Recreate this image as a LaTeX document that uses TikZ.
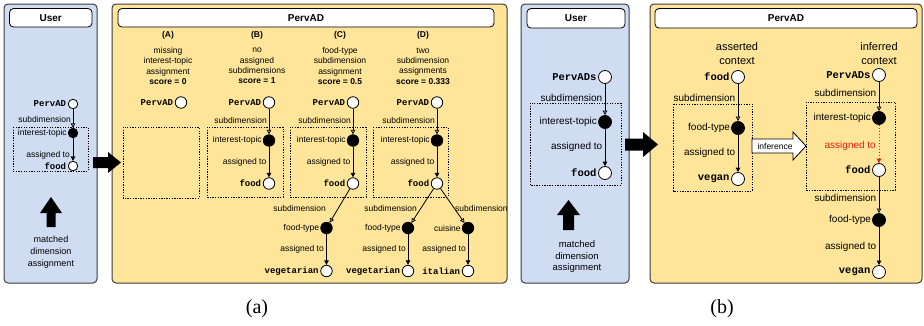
\documentclass[tikz,border=0pt]{standalone}
\usepackage{fontspec}
\setmainfont{Liberation Serif}
\setsansfont{Liberation Sans}
\setmonofont{Liberation Mono}
\usetikzlibrary{arrows.meta}
\definecolor{ublue}{RGB}{207,220,242}
\definecolor{pyell}{RGB}{255,229,153}
\definecolor{pbord}{RGB}{60,60,60}
\definecolor{redinf}{RGB}{230,30,20}
\begin{document}
\begin{tikzpicture}[x=1pt,y=-1pt,
  panelU/.style={draw=pbord,line width=1pt,rounded corners=4pt,fill=ublue},
  panelP/.style={draw=pbord,line width=1pt,rounded corners=4pt,fill=pyell},
  titlebox/.style={draw=black,line width=0.8pt,rounded corners=4pt,fill=white},
  titletxt/.style={font=\sffamily\bfseries\fontsize{10pt}{12pt}\selectfont,inner sep=0pt},
  dbox/.style={draw=black,line width=0.8pt,dash pattern=on 1.3pt off 1.3pt},
  wn/.style={circle,draw=black,fill=white,line width=0.8pt,inner sep=0pt,minimum size=#1},
  bn/.style={circle,draw=black,fill=black,line width=0.8pt,inner sep=0pt,minimum size=#1},
  lA/.style={font=\sffamily\fontsize{8.5pt}{10.5pt}\selectfont,inner sep=1pt},
  lB/.style={font=\sffamily\fontsize{10pt}{12pt}\selectfont,inner sep=1pt},
  mA/.style={font=\ttfamily\bfseries\fontsize{9pt}{10pt}\selectfont,inner sep=1.5pt},
  mB/.style={font=\ttfamily\bfseries\fontsize{10.5pt}{12pt}\selectfont,inner sep=1.5pt},
  sub/.style={line width=0.8pt,-{Triangle[open,length=4.5pt,width=4.5pt]}},
  asg/.style={line width=0.8pt,-{Triangle[length=4.5pt,width=4.5pt]}},
  blockarr/.style={fill=black,draw=none},
  hdr/.style={font=\sffamily\fontsize{8.5pt}{10.3pt}\selectfont,align=center,inner sep=0pt}
]
\useasboundingbox (0,0) rectangle (924,325);

%================ (a) User panel
\draw[panelU] (4,4) rectangle (97,283);
\draw[titlebox] (9.5,8.5) rectangle (92,27);
\node[titletxt] (tUa) at (50.75,17.75) {User};
\draw[dbox] (13,127) rectangle (88,171);
\node[wn=9.5pt,label={[mA]left:PervAD}] (uap) at (73,104) {};
\node[bn=9.5pt,label={[lA]left:interest-topic}] (uai) at (73,133) {};
\node[wn=9.5pt,label={[mA]left:food}] (uaf) at (73,166) {};
\draw[sub] (uap) -- (uai);
\draw[asg] (uai) -- (uaf);
\node[lA,anchor=east] (uals) at (72,119) {subdimension};
\node[lA,anchor=east] (uala) at (71,155) {assigned to};
\fill[blockarr] (46.5,227) -- (46.5,213) -- (40,213) -- (51,197) -- (62,213) -- (55.5,213) -- (55.5,227) -- cycle;
\node[font=\sffamily\fontsize{9pt}{12pt}\selectfont,align=center] (uam) at (51,252) {matched\\dimension\\assignment};

%================ (a) PervAD panel
\draw[panelP] (112,4) rectangle (507,283);
\draw[titlebox] (118,8.5) rectangle (494,27);
\node[titletxt] (tPa) at (306,17.75) {PervAD};

% headers
\node[hdr,font=\sffamily\bfseries\fontsize{8.5pt}{10.3pt}\selectfont] (hA) at (168,35) {(A)};
\node[hdr] (tA) at (168,66) {missing\\interest-topic\\assignment\\\textbf{score = 0}};
\node[hdr,font=\sffamily\bfseries\fontsize{8.5pt}{10.3pt}\selectfont] (hB) at (257,35) {(B)};
\node[hdr] (tB) at (257,66) {no\\assigned\\subdimensions\\\textbf{score = 1}};
\node[hdr,font=\sffamily\bfseries\fontsize{8.5pt}{10.3pt}\selectfont] (hC) at (340,35) {(C)};
\node[hdr] (tC) at (340,66) {food-type\\subdimension\\assignment\\\textbf{score = 0.5}};
\node[hdr,font=\sffamily\bfseries\fontsize{8.5pt}{10.3pt}\selectfont] (hD) at (423,35) {(D)};
\node[hdr] (tD) at (423,66) {two\\subdimension\\assignments\\\textbf{score = 0.333}};

% dashed boxes
\draw[dbox] (123,127) rectangle (199,198);
\draw[dbox] (207,127) rectangle (283,197);
\draw[dbox] (290,127) rectangle (366,197);
\draw[dbox] (373,127) rectangle (448,197);

% column A
\node[wn=11.5pt,label={[mA]left:PervAD}] (ap) at (181,102.5) {};

% column B
\node[wn=11.5pt,label={[mA]left:PervAD}] (bp) at (269,102.5) {};
\node[bn=11.5pt,label={[lA]left:interest-topic}] (bi) at (269,140.5) {};
\node[wn=11.5pt,label={[mA]left:food}] (bf) at (269,183.5) {};
\draw[sub] (bp) -- (bi);
\draw[asg] (bi) -- (bf);
\node[lA,anchor=east] (bls) at (268,120.5) {subdimension};
\node[lA,anchor=east] (bla) at (267.5,162) {assigned to};

% column C
\node[wn=11.5pt,label={[mA]left:PervAD}] (cp) at (353,102.5) {};
\node[bn=11.5pt,label={[lA]left:interest-topic}] (ci) at (353,140.5) {};
\node[wn=11.5pt,label={[mA]left:food}] (cf) at (353,183.5) {};
\node[bn=11.5pt,label={[lA]left:food-type}] (ct) at (326.5,228) {};
\node[wn=11.5pt,label={[mA]left:vegetarian}] (cv) at (326.5,271) {};
\draw[sub] (cp) -- (ci);
\draw[asg] (ci) -- (cf);
\draw[sub] (cf) -- (ct);
\draw[asg] (ct) -- (cv);
\node[lA,anchor=east] (cls) at (352,120.5) {subdimension};
\node[lA,anchor=east] (cla) at (351.5,162) {assigned to};
\node[lA,anchor=east] (cls2) at (327,208) {subdimension};
\node[lA,anchor=east] (cla2) at (325,249) {assigned to};

% column D
\node[wn=11.5pt,label={[mA]left:PervAD}] (dp) at (437,102.5) {};
\node[bn=11.5pt,label={[lA]left:interest-topic}] (di) at (437,140.5) {};
\node[wn=11.5pt,label={[mA]left:food}] (df) at (437,183.5) {};
\node[bn=11.5pt,label={[lA]left:food-type}] (dt) at (408,228) {};
\node[wn=11.5pt,label={[mA]left:vegetarian}] (dv) at (408,271) {};
\node[bn=11.5pt,label={[lA]left:cuisine}] (dc) at (468,228) {};
\node[wn=11.5pt,label={[mA]left:italian}] (dit) at (468,271) {};
\draw[sub] (dp) -- (di);
\draw[asg] (di) -- (df);
\draw[sub] (df) -- (dt);
\draw[asg] (dt) -- (dv);
\draw[sub] (df) -- (dc);
\draw[asg] (dc) -- (dit);
\node[lA,anchor=east] (dls) at (436,120.5) {subdimension};
\node[lA,anchor=east] (dla) at (435.5,162) {assigned to};
\node[lA,anchor=east] (dls2) at (418,208) {subdimension};
\node[lA,anchor=west] (dls3) at (454,208) {subdimension};
\node[lA,anchor=east] (dla2) at (407,249) {assigned to};
\node[lA,anchor=east] (dla3) at (467,249) {assigned to};

% arrow (a)
\fill[blockarr] (93,157) -- (108,157) -- (108,152) -- (121,162.5) -- (108,173) -- (108,168) -- (93,168) -- cycle;

%================ (b) User panel
\draw[panelU] (521,4) rectangle (629,283);
\draw[titlebox] (527,8.5) rectangle (625,28);
\node[titletxt] (tUb) at (576,18.25) {User};
\draw[dbox] (530,103) rectangle (621,185);
\node[wn=13pt,label={[mB]left:PervADs}] (ubp) at (605,77) {};
\node[bn=13pt,label={[lB]left:interest-topic}] (ubi) at (605,122) {};
\node[wn=13pt,label={[mB]left:food}] (ubf) at (605,173) {};
\draw[sub] (ubp) -- (ubi);
\draw[asg] (ubi) -- (ubf);
\node[lB,anchor=east] (ubls) at (603.5,98) {subdimension};
\node[lB,anchor=east] (ubla) at (603.5,147) {assigned to};
\fill[blockarr] (563,230) -- (563,215) -- (557,215) -- (568.5,200) -- (580,215) -- (574,215) -- (574,230) -- cycle;
\node[font=\sffamily\fontsize{9.5pt}{11.5pt}\selectfont,align=center] (ubm) at (577,257) {matched\\dimension\\assignment};

%================ (b) PervAD panel
\draw[panelP] (650,4) rectangle (922,283);
\draw[titlebox] (655,8.5) rectangle (917,28);
\node[titletxt] (tPb) at (786,18.25) {PervAD};

\node[font=\sffamily\fontsize{11pt}{14pt}\selectfont,align=center] (asc) at (737,54) {asserted\\context};
\node[font=\sffamily\fontsize{11pt}{14pt}\selectfont,align=center] (inc) at (879,54) {inferred\\context};

\draw[dbox] (673,104) rectangle (752,191);
\node[wn=13pt,label={[mB]left:food}] (sf) at (738,77) {};
\node[bn=13pt,label={[lB]left:food-type}] (st) at (738,128) {};
\node[wn=13pt,label={[mB]left:vegan}] (sv) at (738,179) {};
\draw[sub] (sf) -- (st);
\draw[asg] (st) -- (sv);
\node[lB,anchor=east] (sls) at (736.5,98) {subdimension};
\node[lB,anchor=east] (sla) at (736.5,153) {assigned to};

\draw[dbox] (806,102) rectangle (895,190);
\node[wn=13pt,label={[mB]left:PervADs}] (ip) at (879,75) {};
\node[bn=13pt,label={[lB]left:interest-topic}] (ii) at (879,118) {};
\node[wn=13pt,label={[mB]left:food}] (iff) at (879,170) {};
\node[bn=13pt,label={[lB]left:food-type}] (it) at (879,220) {};
\node[wn=13pt,label={[mB]left:vegan}] (iv) at (879,272) {};
\draw[sub] (ip) -- (ii);
\draw[line width=0.8pt,draw=redinf,dash pattern=on 1.5pt off 1.5pt,-{Triangle[length=4.5pt,width=4.5pt,fill=redinf]}] (ii) -- (iff);
\draw[sub] (iff) -- (it);
\draw[asg] (it) -- (iv);
\node[lB,anchor=east] (ils) at (877.5,93) {subdimension};
\node[lB,anchor=east,text=redinf] (ila) at (877,146) {assigned to};
\node[lB,anchor=east] (ils2) at (877.5,198) {subdimension};
\node[lB,anchor=east] (ila2) at (877.5,247) {assigned to};

% inference arrow
\draw[fill=white,draw=black,line width=0.8pt] (752,139) -- (793,139) -- (793,132) -- (806,146) -- (793,160) -- (793,153) -- (752,153) -- cycle;
\node[font=\sffamily\fontsize{8.5pt}{10pt}\selectfont] (infl) at (775,146) {inference};

% arrow (b)
\fill[blockarr] (625,138.5) -- (643,138.5) -- (643,132) -- (658,144.5) -- (643,157) -- (643,150.5) -- (625,150.5) -- cycle;

%================ captions
\node[font=\fontsize{20pt}{22pt}\selectfont] (capa) at (257,309) {(a)};
\node[font=\fontsize{20pt}{22pt}\selectfont] (capb) at (722,309) {(b)};
\end{tikzpicture}
\end{document}
